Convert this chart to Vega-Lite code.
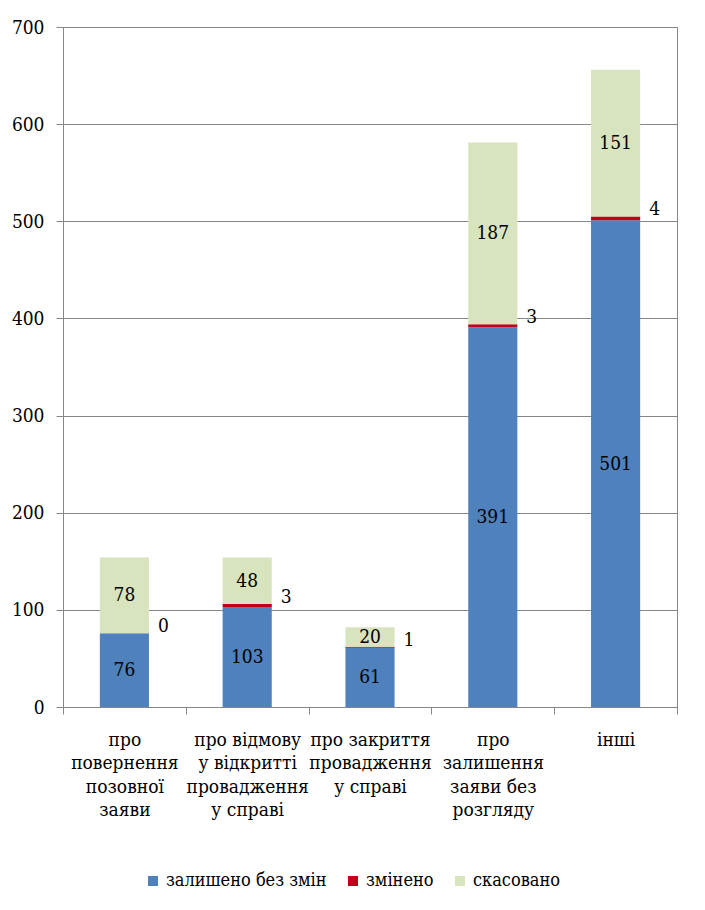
{
  "$schema": "https://vega.github.io/schema/vega-lite/v6.json",
  "width": 614,
  "height": 680,
  "autosize": {"type": "none"},
  "padding": {"left": 63, "top": 27, "right": 28, "bottom": 203},
  "background": "white",
  "config": {
    "view": {"stroke": "#868686", "strokeWidth": 1},
    "font": "DejaVu Serif Condensed"
  },
  "data": {
    "values": [
      {"cat": "про повернення позовної заяви", "series": "залишено без змін", "value": 76},
      {"cat": "про повернення позовної заяви", "series": "змінено", "value": 0},
      {"cat": "про повернення позовної заяви", "series": "скасовано", "value": 78},
      {"cat": "про відмову у відкритті провадження у справі", "series": "залишено без змін", "value": 103},
      {"cat": "про відмову у відкритті провадження у справі", "series": "змінено", "value": 3},
      {"cat": "про відмову у відкритті провадження у справі", "series": "скасовано", "value": 48},
      {"cat": "про закриття провадження у справі", "series": "залишено без змін", "value": 61},
      {"cat": "про закриття провадження у справі", "series": "змінено", "value": 1},
      {"cat": "про закриття провадження у справі", "series": "скасовано", "value": 20},
      {"cat": "про залишення заяви без розгляду", "series": "залишено без змін", "value": 391},
      {"cat": "про залишення заяви без розгляду", "series": "змінено", "value": 3},
      {"cat": "про залишення заяви без розгляду", "series": "скасовано", "value": 187},
      {"cat": "інші", "series": "залишено без змін", "value": 501},
      {"cat": "інші", "series": "змінено", "value": 4},
      {"cat": "інші", "series": "скасовано", "value": 151}
    ]
  },
  "transform": [
    {"stack": "value", "groupby": ["cat"], "sort": [{"field": "series", "order": "ascending"}], "as": ["v0", "v1"]},
    {"calculate": "(datum.v0 + datum.v1) / 2", "as": "mid"}
  ],
  "encoding": {
    "x": {
      "field": "cat",
      "type": "nominal",
      "sort": null,
      "scale": {"paddingInner": 0, "paddingOuter": 0},
      "axis": {
        "title": null,
        "labelAngle": 0,
        "labelFont": "DejaVu Serif Condensed",
        "labelFontSize": 19,
        "labelColor": "black",
        "labelLineHeight": 23.5,
        "labelPadding": 16,
        "labelLimit": 0,
        "labelBaseline": "top",
        "tickBand": "extent",
        "tickSize": 7,
        "tickColor": "#868686",
        "domainColor": "#868686",
        "labelExpr": "datum.value == 'про повернення позовної заяви' ? ['про', 'повернення', 'позовної', 'заяви'] : datum.value == 'про відмову у відкритті провадження у справі' ? ['про відмову', 'у відкритті', 'провадження', 'у справі'] : datum.value == 'про закриття провадження у справі' ? ['про закриття', 'провадження', 'у справі'] : datum.value == 'про залишення заяви без розгляду' ? ['про', 'залишення', 'заяви без', 'розгляду'] : datum.value"
      }
    }
  },
  "layer": [
    {
      "mark": {"type": "bar", "width": {"band": 0.4}},
      "encoding": {
        "y": {
          "field": "v0",
          "type": "quantitative",
          "scale": {"domain": [0, 700]},
          "axis": {
            "title": null,
            "values": [0, 100, 200, 300, 400, 500, 600, 700],
            "labelFont": "DejaVu Serif Condensed",
            "labelFontSize": 19,
            "labelColor": "black",
            "labelPadding": 12,
            "tickSize": 7,
            "tickColor": "#868686",
            "domainColor": "#868686",
            "gridColor": "#868686",
            "grid": true
          }
        },
        "y2": {"field": "v1"},
        "color": {
          "field": "series",
          "type": "nominal",
          "scale": {
            "domain": ["залишено без змін", "змінено", "скасовано"],
            "range": ["#4F81BD", "#C00018", "#D7E4BD"]
          },
          "legend": {
            "title": null,
            "orient": "none",
            "direction": "horizontal",
            "legendX": 81,
            "legendY": 845,
            "symbolType": "square",
            "symbolSize": 100,
            "symbolStrokeWidth": 0,
            "labelFont": "DejaVu Serif Condensed",
            "labelFontSize": 18,
            "labelColor": "black",
            "labelOffset": 4,
            "columnPadding": 17,
            "labelLimit": 0
          }
        }
      }
    },
    {
      "transform": [{"filter": "datum.series != 'змінено'"}],
      "mark": {"type": "text", "font": "DejaVu Serif Condensed", "fontSize": 19, "color": "black", "baseline": "middle"},
      "encoding": {
        "y": {"field": "mid", "type": "quantitative"},
        "text": {"field": "value", "type": "quantitative"}
      }
    },
    {
      "transform": [{"filter": "datum.series == 'змінено'"}],
      "mark": {"type": "text", "font": "DejaVu Serif Condensed", "fontSize": 19, "color": "black", "baseline": "middle", "dx": 39, "dy": -7},
      "encoding": {
        "y": {"field": "v1", "type": "quantitative"},
        "text": {"field": "value", "type": "quantitative"}
      }
    }
  ]
}
